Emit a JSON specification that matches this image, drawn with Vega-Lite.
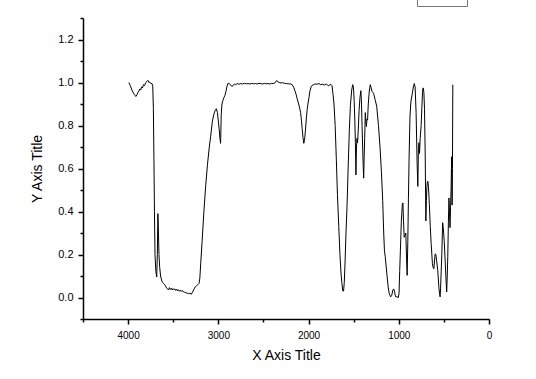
{
  "$schema": "https://vega.github.io/schema/vega-lite/v6.json",
  "width": 406,
  "height": 301,
  "autosize": {"type": "none"},
  "padding": {"left": 83, "top": 18, "right": 47, "bottom": 60},
  "background": "white",
  "config": {"view": {"stroke": null}, "font": "Liberation Sans"},
  "data": {"values": [
    {"w":3992,"t":1.0},{"w":3975,"t":0.985},{"w":3958,"t":0.965},{"w":3940,"t":0.95},{"w":3925,"t":0.94},{"w":3912,"t":0.935},{"w":3900,"t":0.945},{"w":3890,"t":0.955},{"w":3880,"t":0.96},{"w":3870,"t":0.97},{"w":3860,"t":0.965},{"w":3850,"t":0.98},{"w":3840,"t":0.975},{"w":3830,"t":0.99},{"w":3818,"t":0.985},{"w":3805,"t":1.0},{"w":3792,"t":1.005},{"w":3780,"t":1.01},{"w":3770,"t":1.0},{"w":3760,"t":1.002},{"w":3748,"t":0.995},{"w":3735,"t":0.995},{"w":3727,"t":0.985},
    {"w":3720,"t":0.88},{"w":3714,"t":0.65},{"w":3708,"t":0.4},{"w":3702,"t":0.2},{"w":3692,"t":0.12},{"w":3683,"t":0.095},{"w":3676,"t":0.2},{"w":3670,"t":0.39},{"w":3665,"t":0.33},{"w":3658,"t":0.2},{"w":3650,"t":0.14},{"w":3640,"t":0.1},{"w":3625,"t":0.075},{"w":3608,"t":0.065},{"w":3590,"t":0.057},{"w":3575,"t":0.045},{"w":3563,"t":0.04},{"w":3552,"t":0.035},{"w":3542,"t":0.046},{"w":3532,"t":0.038},{"w":3522,"t":0.043},{"w":3512,"t":0.035},{"w":3502,"t":0.041},{"w":3492,"t":0.036},{"w":3482,"t":0.04},{"w":3472,"t":0.033},{"w":3462,"t":0.039},{"w":3452,"t":0.031},{"w":3442,"t":0.036},{"w":3432,"t":0.03},{"w":3422,"t":0.034},{"w":3412,"t":0.028},{"w":3400,"t":0.033},{"w":3388,"t":0.026},{"w":3375,"t":0.025},{"w":3360,"t":0.022},{"w":3345,"t":0.02},{"w":3330,"t":0.018},{"w":3315,"t":0.02},{"w":3300,"t":0.015},{"w":3290,"t":0.022},{"w":3280,"t":0.03},{"w":3268,"t":0.04},{"w":3255,"t":0.05},{"w":3240,"t":0.055},{"w":3226,"t":0.06},{"w":3214,"t":0.065},{"w":3205,"t":0.09},{"w":3195,"t":0.16},{"w":3180,"t":0.26},{"w":3160,"t":0.4},{"w":3140,"t":0.52},{"w":3120,"t":0.62},{"w":3100,"t":0.7},{"w":3085,"t":0.75},{"w":3066,"t":0.82},{"w":3048,"t":0.855},{"w":3035,"t":0.87},{"w":3022,"t":0.878},{"w":3010,"t":0.86},{"w":3000,"t":0.82},{"w":2990,"t":0.78},{"w":2982,"t":0.74},{"w":2975,"t":0.717},{"w":2968,"t":0.85},{"w":2960,"t":0.9},{"w":2949,"t":0.916},{"w":2938,"t":0.93},{"w":2927,"t":0.94},{"w":2915,"t":0.96},{"w":2905,"t":0.98},{"w":2895,"t":0.995},{"w":2882,"t":0.997},{"w":2870,"t":0.99},{"w":2857,"t":0.985},{"w":2845,"t":0.982},{"w":2832,"t":0.99},{"w":2820,"t":0.992},{"w":2808,"t":0.99},{"w":2790,"t":0.995},{"w":2770,"t":0.992},{"w":2750,"t":0.995},{"w":2730,"t":0.993},{"w":2710,"t":0.996},{"w":2690,"t":0.994},{"w":2670,"t":0.995},{"w":2650,"t":0.993},{"w":2630,"t":0.996},{"w":2610,"t":0.994},{"w":2590,"t":0.995},{"w":2570,"t":0.993},{"w":2550,"t":0.996},{"w":2530,"t":0.995},{"w":2510,"t":0.993},{"w":2490,"t":0.996},{"w":2470,"t":0.994},{"w":2450,"t":0.995},{"w":2430,"t":0.993},{"w":2410,"t":0.996},{"w":2390,"t":0.995},{"w":2372,"t":0.998},{"w":2360,"t":1.006},{"w":2350,"t":1.009},{"w":2338,"t":1.003},{"w":2325,"t":1.0},{"w":2305,"t":0.998},{"w":2285,"t":0.999},{"w":2265,"t":0.996},{"w":2245,"t":0.995},{"w":2225,"t":0.994},{"w":2200,"t":0.993},{"w":2182,"t":0.99},{"w":2165,"t":0.978},{"w":2150,"t":0.96},{"w":2138,"t":0.945},{"w":2126,"t":0.924},{"w":2110,"t":0.9},{"w":2098,"t":0.88},{"w":2088,"t":0.86},{"w":2078,"t":0.82},{"w":2071,"t":0.786},{"w":2062,"t":0.745},{"w":2053,"t":0.717},{"w":2045,"t":0.73},{"w":2036,"t":0.77},{"w":2025,"t":0.83},{"w":2015,"t":0.875},{"w":2005,"t":0.905},{"w":1995,"t":0.93},{"w":1985,"t":0.96},{"w":1972,"t":0.98},{"w":1960,"t":0.987},{"w":1945,"t":0.99},{"w":1925,"t":0.993},{"w":1905,"t":0.992},{"w":1885,"t":0.995},{"w":1865,"t":0.99},{"w":1845,"t":0.992},{"w":1825,"t":0.988},{"w":1805,"t":0.993},{"w":1790,"t":0.988},{"w":1775,"t":0.985},{"w":1762,"t":0.99},{"w":1750,"t":0.99},{"w":1740,"t":0.985},{"w":1730,"t":0.95},{"w":1718,"t":0.9},{"w":1705,"t":0.8},{"w":1692,"t":0.64},{"w":1680,"t":0.48},{"w":1665,"t":0.33},{"w":1652,"t":0.2},{"w":1640,"t":0.11},{"w":1630,"t":0.065},{"w":1620,"t":0.03},{"w":1612,"t":0.03},{"w":1604,"t":0.07},{"w":1595,"t":0.17},{"w":1585,"t":0.3},{"w":1573,"t":0.433},{"w":1560,"t":0.62},{"w":1548,"t":0.78},{"w":1536,"t":0.893},{"w":1522,"t":0.965},{"w":1510,"t":0.99},{"w":1502,"t":0.975},{"w":1494,"t":0.91},{"w":1487,"t":0.82},{"w":1481,"t":0.72},{"w":1475,"t":0.57},{"w":1469,"t":0.7},{"w":1463,"t":0.74},{"w":1457,"t":0.72},{"w":1450,"t":0.77},{"w":1440,"t":0.87},{"w":1430,"t":0.93},{"w":1420,"t":0.962},{"w":1413,"t":0.9},{"w":1407,"t":0.8},{"w":1400,"t":0.69},{"w":1394,"t":0.61},{"w":1389,"t":0.555},{"w":1384,"t":0.65},{"w":1378,"t":0.74},{"w":1371,"t":0.86},{"w":1365,"t":0.82},{"w":1359,"t":0.795},{"w":1353,"t":0.83},{"w":1346,"t":0.825},{"w":1338,"t":0.9},{"w":1327,"t":0.96},{"w":1316,"t":0.99},{"w":1306,"t":0.975},{"w":1296,"t":0.958},{"w":1280,"t":0.95},{"w":1262,"t":0.92},{"w":1245,"t":0.89},{"w":1225,"t":0.8},{"w":1208,"t":0.7},{"w":1192,"t":0.58},{"w":1178,"t":0.45},{"w":1167,"t":0.3},{"w":1159,"t":0.22},{"w":1150,"t":0.19},{"w":1132,"t":0.11},{"w":1118,"t":0.05},{"w":1106,"t":0.018},{"w":1090,"t":0.003},{"w":1078,"t":0.01},{"w":1066,"t":0.034},{"w":1056,"t":0.04},{"w":1046,"t":0.025},{"w":1036,"t":0.004},{"w":1020,"t":0.003},{"w":1005,"t":0.0},{"w":997,"t":0.02},{"w":990,"t":0.12},{"w":982,"t":0.22},{"w":972,"t":0.35},{"w":961,"t":0.433},{"w":954,"t":0.44},{"w":948,"t":0.36},{"w":940,"t":0.28},{"w":931,"t":0.29},{"w":922,"t":0.3},{"w":914,"t":0.18},{"w":907,"t":0.103},{"w":900,"t":0.26},{"w":893,"t":0.46},{"w":885,"t":0.663},{"w":876,"t":0.84},{"w":866,"t":0.909},{"w":848,"t":0.955},{"w":836,"t":0.985},{"w":828,"t":0.995},{"w":819,"t":0.98},{"w":808,"t":0.86},{"w":797,"t":0.632},{"w":789,"t":0.517},{"w":782,"t":0.694},{"w":776,"t":0.72},{"w":770,"t":0.67},{"w":763,"t":0.74},{"w":752,"t":0.8},{"w":744,"t":0.885},{"w":737,"t":0.955},{"w":730,"t":0.975},{"w":722,"t":0.955},{"w":715,"t":0.88},{"w":707,"t":0.663},{"w":700,"t":0.356},{"w":694,"t":0.45},{"w":689,"t":0.51},{"w":683,"t":0.54},{"w":677,"t":0.54},{"w":671,"t":0.515},{"w":661,"t":0.433},{"w":651,"t":0.33},{"w":641,"t":0.25},{"w":627,"t":0.157},{"w":619,"t":0.14},{"w":611,"t":0.134},{"w":604,"t":0.17},{"w":597,"t":0.203},{"w":589,"t":0.2},{"w":580,"t":0.17},{"w":568,"t":0.126},{"w":556,"t":0.05},{"w":547,"t":0.015},{"w":542,"t":0.003},{"w":537,"t":0.04},{"w":530,"t":0.12},{"w":523,"t":0.203},{"w":514,"t":0.348},{"w":506,"t":0.32},{"w":496,"t":0.26},{"w":488,"t":0.187},{"w":478,"t":0.1},{"w":469,"t":0.026},{"w":463,"t":0.1},{"w":457,"t":0.19},{"w":450,"t":0.35},{"w":444,"t":0.463},{"w":438,"t":0.4},{"w":432,"t":0.325},{"w":426,"t":0.42},{"w":420,"t":0.51},{"w":414,"t":0.655},{"w":409,"t":0.43},{"w":405,"t":0.6},{"w":401,"t":0.99}
  ]},
  "mark": {"type": "line", "strokeWidth": 1, "clip": true},
  "encoding": {
    "x": {
      "field": "w", "type": "quantitative",
      "scale": {"domain": [0, 4500], "reverse": true, "nice": false, "zero": false},
      "axis": {
        "title": "X Axis Title",
        "values": [4500, 4000, 3500, 3000, 2500, 2000, 1500, 1000, 500, 0],
        "format": "d",
        "labelExpr": "datum.value % 1000 == 0 ? datum.label : ''",
        "tickSize": {"condition": {"test": "datum.value % 1000 == 0", "value": 5}, "value": 3},
        "grid": false,
        "domainColor": "black", "domainWidth": 1.5,
        "tickColor": "black", "tickWidth": 1.5,
        "labelFontSize": 10, "labelColor": "black", "labelPadding": 6,
        "labelFlush": false, "labelOverlap": false,
        "titleFontSize": 14, "titleFontWeight": "normal", "titleColor": "black", "titlePadding": 8
      }
    },
    "y": {
      "field": "t", "type": "quantitative",
      "scale": {"domain": [-0.1, 1.3], "nice": false, "zero": false},
      "axis": {
        "title": "Y Axis Title",
        "values": [-0.1, 0, 0.1, 0.2, 0.3, 0.4, 0.5, 0.6, 0.7, 0.8, 0.9, 1.0, 1.1, 1.2, 1.3],
        "labelExpr": "abs(round(datum.value*10)) % 2 == 0 ? format(datum.value, '.1f') : ''",
        "tickSize": {"condition": {"test": "abs(round(datum.value*10)) % 2 == 0", "value": 5}, "value": 3},
        "grid": false,
        "domainColor": "black", "domainWidth": 1.5,
        "tickColor": "black", "tickWidth": 1.5,
        "labelFontSize": 11, "labelColor": "black", "labelPadding": 5,
        "labelFlush": false, "labelOverlap": false,
        "titleFontSize": 14, "titleFontWeight": "normal", "titleColor": "black", "titlePadding": 13
      }
    },
    "color": {
      "datum": "B",
      "scale": {"domain": ["B"], "range": ["black"]},
      "legend": {
        "orient": "none", "legendX": 334, "legendY": -42,
        "title": null, "strokeColor": "#777", "fillColor": "white",
        "padding": 6, "symbolType": "stroke", "symbolSize": 625, "symbolStrokeWidth": 1,
        "labelFontSize": 11, "labelColor": "black"
      }
    }
  }
}
